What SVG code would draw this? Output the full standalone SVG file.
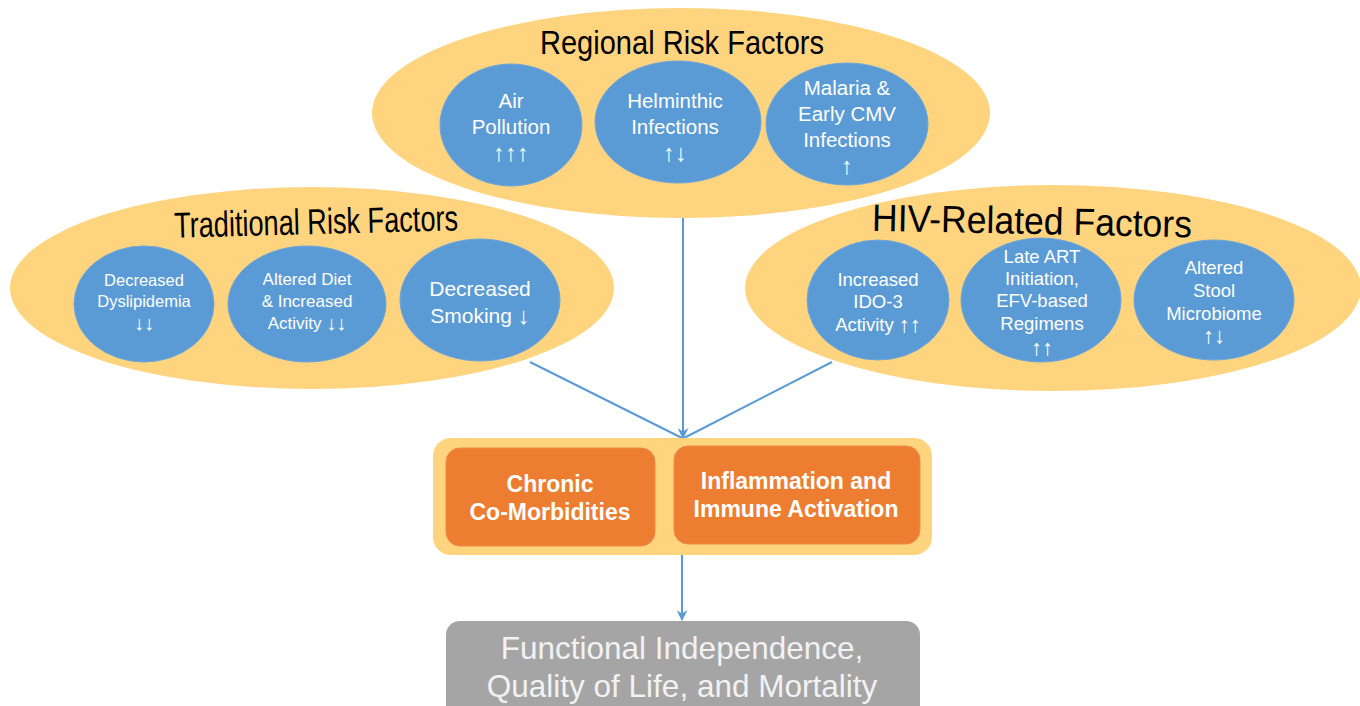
<svg xmlns="http://www.w3.org/2000/svg" width="1360" height="706" viewBox="0 0 1360 706">
  <defs>
    <marker id="arrowBig" viewBox="0 0 10 10" refX="9" refY="5" markerWidth="11" markerHeight="11" orient="auto" markerUnits="userSpaceOnUse">
      <path d="M0,0 L10,5 L0,10 L3,5 z" fill="#5B9BD5"/>
    </marker>
  </defs>
  <style>
    .group { fill: #FFD47F; }
    .factor { fill: #5B9BD5; stroke: #6FA6DA; stroke-width: 1; }
    .title { font-family: "Liberation Sans", Arial, sans-serif; fill: #000; text-anchor: middle; }
    .ft { font-family: "Liberation Sans", Arial, "DejaVu Sans", sans-serif; fill: #fff; text-anchor: middle; dominant-baseline: central; }
    .box { fill: #ED7D31; stroke: #F08A45; stroke-width: 1; }
    .bt { font-family: "Liberation Sans", Arial, sans-serif; font-weight: bold; font-size: 23px; fill: #fff; text-anchor: middle; dominant-baseline: central; }
    .outcome { fill: #A5A5A5; }
    .ot { font-family: "Liberation Sans", Arial, sans-serif; font-size: 31.5px; fill: #F2F2F2; text-anchor: middle; dominant-baseline: central; }
    .edge { stroke: #5B9BD5; stroke-width: 2; fill: none; }
  </style>

  <rect width="1360" height="706" fill="#fff"/>

  <!-- Regional risk factors -->
  <g id="regional">
    <ellipse class="group" cx="681" cy="113" rx="309" ry="105"/>
    <text class="title" x="682" y="54" font-size="33" textLength="284" lengthAdjust="spacingAndGlyphs">Regional Risk Factors</text>
    <g id="air-pollution">
      <ellipse class="factor" cx="511" cy="125" rx="71" ry="61"/>
      <text class="ft" font-size="20.5" x="511" y="100">Air</text>
      <text class="ft" font-size="20.5" x="511" y="126">Pollution</text>
      <text class="ft" font-size="24" x="511" y="152">↑↑↑</text>
    </g>
    <g id="helminthic">
      <ellipse class="factor" cx="678" cy="122" rx="83" ry="61"/>
      <text class="ft" font-size="20.5" x="675" y="100">Helminthic</text>
      <text class="ft" font-size="20.5" x="675" y="126">Infections</text>
      <text class="ft" font-size="24" x="675" y="152">↑↓</text>
    </g>
    <g id="malaria-cmv">
      <ellipse class="factor" cx="847" cy="124" rx="81" ry="61"/>
      <text class="ft" font-size="20.5" x="847" y="87">Malaria &amp;</text>
      <text class="ft" font-size="20.5" x="847" y="113">Early CMV</text>
      <text class="ft" font-size="20.5" x="847" y="139">Infections</text>
      <text class="ft" font-size="24" x="847" y="165">↑</text>
    </g>
  </g>

  <!-- Traditional risk factors -->
  <g id="traditional">
    <ellipse class="group" cx="312" cy="288" rx="302" ry="101"/>
    <text class="title" x="316" y="234" font-size="36" textLength="284" lengthAdjust="spacingAndGlyphs" transform="rotate(-1.5 316 220)">Traditional Risk Factors</text>
    <g id="dyslipidemia">
      <ellipse class="factor" cx="144" cy="304" rx="70" ry="58"/>
      <text class="ft" font-size="16.5" x="144" y="280">Decreased</text>
      <text class="ft" font-size="16.5" x="144" y="301">Dyslipidemia</text>
      <text class="ft" font-size="20" x="144" y="323">↓↓</text>
    </g>
    <g id="diet-activity">
      <ellipse class="factor" cx="307" cy="304" rx="79" ry="58"/>
      <text class="ft" font-size="17" x="307" y="279">Altered Diet</text>
      <text class="ft" font-size="17" x="307" y="301">&amp; Increased</text>
      <text class="ft" font-size="17" x="307" y="323">Activity <tspan font-size="20">↓↓</tspan></text>
    </g>
    <g id="smoking">
      <ellipse class="factor" cx="480" cy="300" rx="80" ry="61"/>
      <text class="ft" font-size="21" x="480" y="288">Decreased</text>
      <text class="ft" font-size="21" x="480" y="315">Smoking <tspan font-size="24">↓</tspan></text>
    </g>
  </g>

  <!-- HIV-related factors -->
  <g id="hiv">
    <ellipse class="group" cx="1053" cy="288" rx="308" ry="103"/>
    <text class="title" x="1032" y="234" font-size="38" textLength="320" lengthAdjust="spacingAndGlyphs" transform="rotate(1.2 1032 220)">HIV-Related Factors</text>
    <g id="ido3">
      <ellipse class="factor" cx="878" cy="300" rx="71" ry="60"/>
      <text class="ft" font-size="18.5" x="878" y="279">Increased</text>
      <text class="ft" font-size="18.5" x="878" y="301">IDO-3</text>
      <text class="ft" font-size="18.5" x="878" y="324">Activity <tspan font-size="22">↑↑</tspan></text>
    </g>
    <g id="late-art">
      <ellipse class="factor" cx="1041" cy="300" rx="80" ry="62"/>
      <text class="ft" font-size="18.5" x="1042" y="256">Late ART</text>
      <text class="ft" font-size="18.5" x="1042" y="278">Initiation,</text>
      <text class="ft" font-size="18.5" x="1042" y="300">EFV-based</text>
      <text class="ft" font-size="18.5" x="1042" y="323">Regimens</text>
      <text class="ft" font-size="22" x="1042" y="347">↑↑</text>
    </g>
    <g id="microbiome">
      <ellipse class="factor" cx="1214" cy="300" rx="80" ry="60"/>
      <text class="ft" font-size="18.5" x="1214" y="267">Altered</text>
      <text class="ft" font-size="18.5" x="1214" y="290">Stool</text>
      <text class="ft" font-size="18.5" x="1214" y="313">Microbiome</text>
      <text class="ft" font-size="22" x="1214" y="335">↑↓</text>
    </g>
  </g>

  <!-- Connectors -->
  <g id="connectors">
    <line class="edge" x1="683" y1="218" x2="683" y2="438" marker-end="url(#arrowBig)"/>
    <line class="edge" x1="530" y1="362" x2="682" y2="438"/>
    <line class="edge" x1="832" y1="362" x2="684" y2="438"/>
    <line class="edge" x1="682" y1="555" x2="682" y2="620" marker-end="url(#arrowBig)"/>
  </g>

  <!-- Central mediators -->
  <g id="mediators">
    <rect class="group" x="433" y="438" width="499" height="117" rx="18"/>
    <g id="comorbidities">
      <rect class="box" x="446" y="448" width="209" height="98" rx="14"/>
      <text class="bt" x="550" y="484">Chronic</text>
      <text class="bt" x="550" y="512">Co-Morbidities</text>
    </g>
    <g id="inflammation">
      <rect class="box" x="674" y="446" width="246" height="98" rx="14"/>
      <text class="bt" x="796" y="481">Inflammation and</text>
      <text class="bt" x="796" y="509">Immune Activation</text>
    </g>
  </g>

  <!-- Final outcome -->
  <g id="outcome">
    <rect class="outcome" x="446" y="621" width="474" height="100" rx="14"/>
    <text class="ot" x="682" y="648">Functional Independence,</text>
    <text class="ot" x="682" y="686">Quality of Life, and Mortality</text>
  </g>
</svg>
